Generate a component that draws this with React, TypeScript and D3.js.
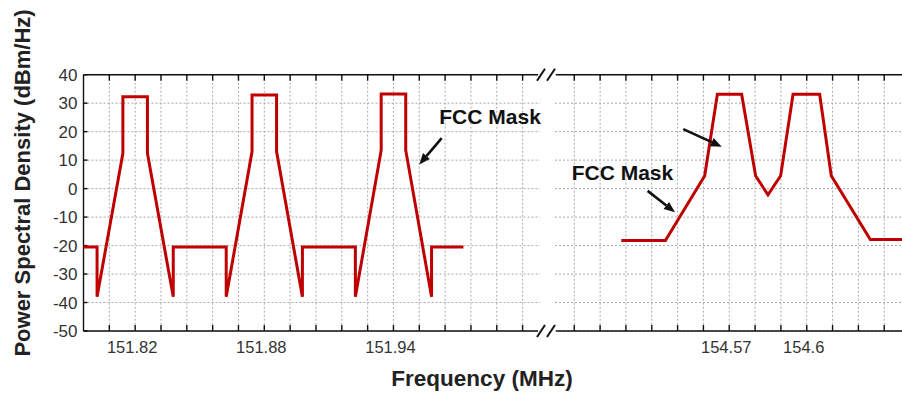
import React from "react";
import * as d3 from "d3";

// ---- Data ----
const yTicks = [-50, -40, -30, -20, -10, 0, 10, 20, 30, 40];
const leftTickLabels = [151.82, 151.88, 151.94];
const rightTickLabels = [154.57, 154.6];

// FCC mask, low band (MHz, dBm/Hz)
const leftMaskFreq = [
  151.7959, 151.8023, 151.8023, 151.8143, 151.8143, 151.8257, 151.8257, 151.8377, 151.8377,
  151.8623, 151.8623, 151.8743, 151.8743, 151.8857, 151.8857, 151.8977, 151.8977,
  151.9223, 151.9223, 151.9343, 151.9343, 151.9457, 151.9457, 151.9577, 151.9577, 151.9725,
];
const leftMaskPsd = [
  -20.5, -20.5, -38, 12.4, 32.3, 32.3, 12.4, -38, -20.5,
  -20.5, -38, 13, 32.9, 32.9, 13, -38, -20.5,
  -20.5, -38, 13.5, 33.2, 33.2, 13.5, -38, -20.5, -20.5,
];

// FCC mask, high band
const rightMaskFreq = [
  154.5282, 154.5453, 154.5605, 154.5654, 154.5748, 154.5802, 154.585, 154.5899,
  154.5947, 154.605, 154.6095, 154.6246, 154.645,
];
const rightMaskPsd = [-18.2, -18.2, 4.5, 33.1, 33.1, 4.5, -2.2, 4.5, 33.1, 33.1, 4.5, -17.9, -17.9];

// annotations
const annLabel = "FCC Mask";

export default function App() {
  const W = 902, H = 394;
  const step = 25.83;
  const x0 = 83.5;
  const nIdx = 32;
  const gridX = d3.scaleLinear().domain([0, nIdx]).range([x0, x0 + nIdx * step]);
  const breakIdx = 18;
  const xL = d3.scaleLinear().domain([151.82, 151.88]).range([gridX(2), gridX(7)]);
  const xR = d3.scaleLinear().domain([154.57, 154.6]).range([gridX(25), gridX(28)]);
  const yTop = 74.7, yBot = 331;
  const y = d3.scaleLinear().domain([-50, 40]).range([yBot, yTop]);

  const gapL = 540, gapR = 555;
  const rightEdge = gridX(nIdx);

  const lineGen = d3.line<number>();
  const leftPath = lineGen(leftMaskFreq.map((f, i) => [xL(f), y(leftMaskPsd[i])] as any) as any);
  const rightPath = lineGen(rightMaskFreq.map((f, i) => [xR(f), y(rightMaskPsd[i])] as any) as any);

  const idxs = d3.range(0, nIdx + 1).filter((i) => i !== breakIdx);

  const font = "Arial, 'Liberation Sans', sans-serif";

  const arrows = [
    { tail: [xL(151.9624), y(17.7)], tip: [xL(151.952), y(8.5)] },
    { tail: [xR(154.5384), y(-0.8)], tip: [xR(154.549), y(-8.3)] },
    { tail: [xR(154.5522), y(20.9)], tip: [xR(154.5671), y(14.7)] },
  ];
  const labels = [
    { x: xL(151.9613), y: y(22.7) },
    { x: xR(154.509), y: y(3.0) },
  ];

  const arrowEls = arrows.map((a, i) => {
    const [tx, ty] = a.tail;
    const [hx, hy] = a.tip;
    const ang = Math.atan2(hy - ty, hx - tx);
    const len = 11, hw = 4.5;
    const bx = hx - len * Math.cos(ang), by = hy - len * Math.sin(ang);
    const px = -Math.sin(ang) * hw, py = Math.cos(ang) * hw;
    const pts = `${hx},${hy} ${bx + px},${by + py} ${bx - px},${by - py}`;
    return (
      <g key={i}>
        <line x1={tx} y1={ty} x2={bx} y2={by} stroke="#111" strokeWidth={2.6} />
        <polygon points={pts} fill="#111" />
      </g>
    );
  });

  const slash = (bx: number, by: number, k: string) => (
    <g key={k}>
      <line x1={bx} y1={by + 6} x2={bx + 8} y2={by - 6} stroke="#111" strokeWidth={2} />
      <line x1={bx + 10} y1={by + 6} x2={bx + 18} y2={by - 6} stroke="#111" strokeWidth={2} />
    </g>
  );

  return (
    <svg width={W} height={H} style={{ position: "absolute", left: 0, top: 0, background: "#fff" }}>
      <rect x={0} y={0} width={W} height={H} fill="#fff" />
      {/* grid */}
      <g stroke="#aaaaaa" strokeWidth={1} strokeDasharray="2,2">
        {idxs.filter((i) => i > 0).map((i) => (
          <line key={"gx" + i} x1={gridX(i)} x2={gridX(i)} y1={yTop} y2={yBot} />
        ))}
        {yTicks.map((t) => (
          <g key={"gy" + t}>
            <line x1={x0} x2={gapL} y1={y(t)} y2={y(t)} />
            <line x1={gapR} x2={rightEdge} y1={y(t)} y2={y(t)} />
          </g>
        ))}
      </g>
      {/* axes frame */}
      <g stroke="#111" strokeWidth={1.4} fill="none">
        <line x1={x0} x2={x0} y1={yTop} y2={yBot} />
        <line x1={x0} x2={538} y1={yTop} y2={yTop} />
        <line x1={556} x2={rightEdge} y1={yTop} y2={yTop} />
        <line x1={x0} x2={538} y1={yBot} y2={yBot} />
        <line x1={556} x2={rightEdge} y1={yBot} y2={yBot} />
        <line x1={rightEdge} x2={rightEdge} y1={yTop} y2={yBot} />
        {idxs.filter((i) => i > 0 && i < nIdx).map((i) => (
          <g key={"tk" + i}>
            <line x1={gridX(i)} x2={gridX(i)} y1={yTop} y2={yTop + 6} />
            <line x1={gridX(i)} x2={gridX(i)} y1={yBot} y2={yBot - 6} />
          </g>
        ))}
        {yTicks.map((t) => (
          <g key={"ytk" + t}>
            <line x1={x0} x2={x0 + 4} y1={y(t)} y2={y(t)} />
            <line x1={rightEdge} x2={rightEdge - 6} y1={y(t)} y2={y(t)} />
          </g>
        ))}
      </g>
      {slash(537, yTop, "s1")}
      {slash(537, yBot, "s2")}
      {/* y tick labels */}
      <g fontFamily={font} fontSize={17} fill="#333" textAnchor="end">
        {yTicks.map((t) => (
          <text key={"yl" + t} x={77.5} y={y(t)} dy="0.36em">
            {t}
          </text>
        ))}
      </g>
      {/* x tick labels */}
      <g fontFamily={font} fontSize={16.5} fill="#333" textAnchor="middle">
        {leftTickLabels.map((t) => (
          <text key={"xl" + t} x={xL(t) - 3} y={352.5}>
            {t}
          </text>
        ))}
        {rightTickLabels.map((t) => (
          <text key={"xr" + t} x={xR(t) - 3} y={352.5}>
            {t}
          </text>
        ))}
      </g>
      {/* mask lines */}
      <path d={leftPath || ""} fill="none" stroke="#c00000" strokeWidth={3} strokeLinejoin="miter" />
      <path d={rightPath || ""} fill="none" stroke="#c00000" strokeWidth={3} strokeLinejoin="miter" />
      {/* annotations */}
      {arrowEls}
      <g fontFamily={font} fontSize={21} fontWeight="bold" fill="#111">
        {labels.map((l, i) => (
          <text key={"lb" + i} x={l.x} y={l.y}>
            {annLabel}
          </text>
        ))}
      </g>
      {/* axis titles */}
      <text x={482} y={386} textAnchor="middle" fontFamily={font} fontSize={22.5} fontWeight="bold" fill="#222">
        Frequency (MHz)
      </text>
      <text
        transform={`translate(${30},${183}) rotate(-90)`}
        textAnchor="middle"
        fontFamily={font}
        fontSize={22}
        fontWeight="bold"
        fill="#222"
      >
        Power Spectral Density (dBm/Hz)
      </text>
    </svg>
  );
}
